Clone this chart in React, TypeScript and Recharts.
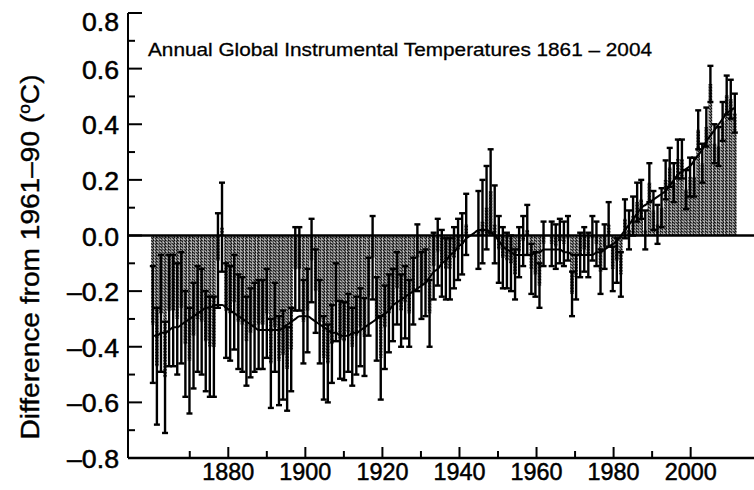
import React from 'react'
import { ComposedChart, Bar, Line, XAxis, YAxis, ErrorBar, ReferenceLine } from 'recharts'

const years = [
  1861, 1862, 1863, 1864, 1865, 1866, 1867, 1868, 1869, 1870,
  1871, 1872, 1873, 1874, 1875, 1876, 1877, 1878, 1879, 1880,
  1881, 1882, 1883, 1884, 1885, 1886, 1887, 1888, 1889, 1890,
  1891, 1892, 1893, 1894, 1895, 1896, 1897, 1898, 1899, 1900,
  1901, 1902, 1903, 1904, 1905, 1906, 1907, 1908, 1909, 1910,
  1911, 1912, 1913, 1914, 1915, 1916, 1917, 1918, 1919, 1920,
  1921, 1922, 1923, 1924, 1925, 1926, 1927, 1928, 1929, 1930,
  1931, 1932, 1933, 1934, 1935, 1936, 1937, 1938, 1939, 1940,
  1941, 1942, 1943, 1944, 1945, 1946, 1947, 1948, 1949, 1950,
  1951, 1952, 1953, 1954, 1955, 1956, 1957, 1958, 1959, 1960,
  1961, 1962, 1963, 1964, 1965, 1966, 1967, 1968, 1969, 1970,
  1971, 1972, 1973, 1974, 1975, 1976, 1977, 1978, 1979, 1980,
  1981, 1982, 1983, 1984, 1985, 1986, 1987, 1988, 1989, 1990,
  1991, 1992, 1993, 1994, 1995, 1996, 1997, 1998, 1999, 2000,
  2001, 2002, 2003, 2004,
]

// annual anomaly vs 1961-90, degC
const anomalies = [
  -0.32, -0.47, -0.28, -0.51, -0.27, -0.27, -0.3, -0.26, -0.39, -0.45,
  -0.36, -0.3, -0.31, -0.38, -0.4, -0.4, -0.09, 0.03, -0.27, -0.28,
  -0.24, -0.31, -0.32, -0.38, -0.35, -0.33, -0.32, -0.32, -0.28, -0.46,
  -0.33, -0.45, -0.43, -0.48, -0.41, -0.12, -0.12, -0.31, -0.27, -0.09,
  -0.2, -0.31, -0.44, -0.46, -0.39, -0.24, -0.375, -0.38, -0.35, -0.4,
  -0.36, -0.33, -0.365, -0.22, -0.08, -0.3, -0.44, -0.33, -0.28, -0.25,
  -0.19, -0.27, -0.24, -0.28, -0.2, -0.08, -0.18, -0.17, -0.28, -0.11,
  -0.06, -0.1, -0.12, -0.12, -0.08, -0.05, -0.03, 0.04, 0.0, 0.0,
  0.02, 0.05, 0.1, 0.16, 0.04, -0.05, -0.08, -0.09, -0.1, -0.14,
  -0.06, -0.02, 0.02, -0.12, -0.14, -0.18, -0.03, 0.0, -0.03, -0.04,
  -0.02, -0.03, -0.01, -0.21, -0.15, -0.07, -0.05, -0.07, -0.01, -0.03,
  -0.13, -0.04, 0.04, -0.12, -0.09, -0.14, 0.06, 0.02, 0.07, 0.12,
  0.13, 0.02, 0.19, 0.09, 0.04, 0.1, 0.2, 0.245, 0.19, 0.275,
  0.275, 0.165, 0.21, 0.21, 0.38, 0.26, 0.39, 0.545, 0.33, 0.32,
  0.41, 0.505, 0.49, 0.44,
]

// half-width of the error bars
const errors = [
  0.21, 0.21, 0.21, 0.2, 0.2, 0.2, 0.2, 0.2, 0.19, 0.19,
  0.19, 0.19, 0.19, 0.18, 0.18, 0.18, 0.17, 0.16, 0.17, 0.17,
  0.17, 0.17, 0.17, 0.16, 0.16, 0.16, 0.16, 0.16, 0.16, 0.16,
  0.16, 0.16, 0.16, 0.15, 0.15, 0.15, 0.15, 0.15, 0.15, 0.15,
  0.15, 0.15, 0.15, 0.14, 0.14, 0.14, 0.14, 0.14, 0.14, 0.14,
  0.14, 0.14, 0.14, 0.14, 0.15, 0.15, 0.15, 0.15, 0.14, 0.13,
  0.13, 0.13, 0.13, 0.12, 0.12, 0.12, 0.12, 0.12, 0.12, 0.12,
  0.12, 0.12, 0.11, 0.11, 0.11, 0.11, 0.11, 0.11, 0.12, 0.13,
  0.14, 0.15, 0.15, 0.15, 0.14, 0.12, 0.11, 0.1, 0.1, 0.09,
  0.09, 0.09, 0.09, 0.09, 0.08, 0.08, 0.08, 0.08, 0.08, 0.08,
  0.08, 0.08, 0.08, 0.08, 0.08, 0.08, 0.08, 0.08, 0.08, 0.08,
  0.08, 0.08, 0.08, 0.08, 0.08, 0.08, 0.07, 0.07, 0.07, 0.07,
  0.07, 0.07, 0.07, 0.07, 0.07, 0.07, 0.07, 0.07, 0.07, 0.07,
  0.07, 0.07, 0.07, 0.07, 0.07, 0.07, 0.07, 0.065, 0.07, 0.07,
  0.07, 0.07, 0.07, 0.07,
]

// smoothed curve
const smoothed = [
  -0.36, -0.36, -0.35, -0.35, -0.34, -0.33, -0.33, -0.32, -0.31, -0.3,
  -0.29, -0.28, -0.27, -0.26, -0.26, -0.25, -0.25, -0.25, -0.26, -0.27,
  -0.28, -0.29, -0.3, -0.31, -0.32, -0.33, -0.34, -0.34, -0.34, -0.34,
  -0.34, -0.34, -0.33, -0.32, -0.31, -0.3, -0.29, -0.29, -0.29, -0.3,
  -0.31, -0.32, -0.33, -0.34, -0.35, -0.35, -0.36, -0.36, -0.36, -0.35,
  -0.35, -0.34, -0.33, -0.32, -0.31, -0.3, -0.29, -0.28, -0.27, -0.25,
  -0.24, -0.23, -0.22, -0.21, -0.2, -0.19, -0.18, -0.17, -0.15, -0.13,
  -0.12, -0.1, -0.09, -0.07, -0.06, -0.04, -0.03, -0.01, 0.0, 0.01,
  0.02, 0.02, 0.02, 0.01, 0.0, -0.02, -0.04, -0.05, -0.06, -0.07,
  -0.07, -0.07, -0.07, -0.07, -0.06, -0.06, -0.05, -0.05, -0.05, -0.05,
  -0.05, -0.06, -0.06, -0.07, -0.07, -0.07, -0.07, -0.07, -0.07, -0.06,
  -0.06, -0.05, -0.04, -0.03, -0.02, 0.0, 0.02, 0.04, 0.06, 0.08,
  0.1, 0.11, 0.12, 0.13, 0.14, 0.15, 0.16, 0.18, 0.2, 0.22,
  0.23, 0.24, 0.25, 0.27, 0.29, 0.31, 0.34, 0.36, 0.38, 0.4,
  0.42, 0.44, 0.45, 0.46,
]

const yearTicks = [1870, 1880, 1890, 1900, 1910, 1920, 1930, 1940, 1950, 1960, 1970, 1980, 1990, 2000]
const yearLabels = [1880, 1900, 1920, 1940, 1960, 1980, 2000]
const valueTicks = [-0.8, -0.7, -0.6, -0.5, -0.4, -0.3, -0.2, -0.1, 0, 0.1, 0.2, 0.3, 0.4, 0.5, 0.6, 0.7, 0.8]
const valueLabels = ['\u20130.8', '\u20130.6', '\u20130.4', '\u20130.2', '0.0', '0.2', '0.4', '0.6', '0.8']

const data = years.map((year, i) => ({
  year,
  anomaly: anomalies[i],
  err: errors[i],
  smooth: smoothed[i],
}))

const FONT = '"Liberation Sans", Arial, Helvetica, sans-serif'

function YearTick(props: any) {
  const { x, y, payload } = props
  const major = yearLabels.includes(payload.value)
  return (
    <g>
      <line x1={x} x2={x} y1={y} y2={y - (major ? 11 : 7)} stroke="#000" strokeWidth={2} />
      {major && (
        <text x={x} y={y + 22} textAnchor="middle" fontSize={24} fontFamily={FONT} fill="#000"
          stroke="#000" strokeWidth={0.5} textLength={52} lengthAdjust="spacingAndGlyphs">
          {payload.value}
        </text>
      )}
    </g>
  )
}

function ValueTick(props: any) {
  const { x, y, payload } = props
  const idx = valueTicks.indexOf(payload.value)
  const major = idx % 2 === 0
  const label = major ? valueLabels[idx / 2] : null
  // the top label sits a little below its tick in the original
  const shift = payload.value === 0.8 ? 9 : 1
  return (
    <g>
      <line x1={x} x2={x + (major ? 14 : 7)} y1={y} y2={y} stroke="#000" strokeWidth={2} />
      {label && (
        <text x={x - 9} y={y + shift} dy="0.36em" textAnchor="end" fontSize={25} fontFamily={FONT} fill="#000"
          stroke="#000" strokeWidth={0.5} textLength={label.length > 3 ? 52 : 37} lengthAdjust="spacingAndGlyphs">
          {label}
        </text>
      )}
    </g>
  )
}

export default function App() {
  return (
    <div style={{ position: 'absolute', left: 0, top: 0, width: 754, height: 490, background: '#fff' }}>
      <svg width={0} height={0} style={{ position: 'absolute' }}>
        <defs>
          <pattern id="dither" width="3" height="3" patternUnits="userSpaceOnUse">
            <rect width="3" height="3" fill="#6c6c6c" />
            <rect x="0" y="0" width="1" height="1" fill="#0e0e0e" />
            <rect x="2" y="1" width="1" height="1" fill="#151515" />
            <rect x="1" y="0" width="1" height="1" fill="#333" />
            <rect x="0" y="2" width="1" height="1" fill="#3a3a3a" />
            <rect x="1" y="2" width="1" height="1" fill="#bdbdbd" />
          </pattern>
        </defs>
      </svg>
      <ComposedChart width={754} height={490} data={data} margin={{ top: 13, right: 0, bottom: 0, left: 0 }}>
        <XAxis xAxisId="data" dataKey="year" type="number" domain={[1854.85, 2008.66]} allowDataOverflow hide height={0} />
        <XAxis
          xAxisId="yr"
          dataKey="year"
          type="number"
          domain={[1853.97, 2016.44]}
          allowDataOverflow
          ticks={yearTicks}
          interval={0}
          height={32}
          tickSize={0}
          tickMargin={0}
          tickLine={false}
          axisLine={{ stroke: '#000', strokeWidth: 2.5 }}
          tick={<YearTick />}
        />
        <YAxis
          type="number"
          domain={[-0.8, 0.8]}
          ticks={valueTicks}
          interval={0}
          width={128}
          tickSize={0}
          tickMargin={0}
          tickLine={false}
          axisLine={{ stroke: '#000', strokeWidth: 2 }}
          tick={<ValueTick />}
        />
        <Bar xAxisId="data" dataKey="anomaly" fill="url(#dither)" barSize={4.1} isAnimationActive={false}>
          <ErrorBar dataKey="err" direction="y" width={3} strokeWidth={2.4} stroke="#000" />
        </Bar>
        <Line xAxisId="data" dataKey="smooth" type="monotone" stroke="#000" strokeWidth={2} dot={false}
          isAnimationActive={false} />
        <ReferenceLine xAxisId="data" y={0} stroke="#000" strokeWidth={2.5} />
      </ComposedChart>
      <svg width={754} height={490} style={{ position: 'absolute', left: 0, top: 0, pointerEvents: 'none' }}>
        <text x={148} y={56} fontSize={19} fontFamily={FONT} fill="#000" stroke="#000" strokeWidth={0.3}
          textLength={504} lengthAdjust="spacingAndGlyphs">
          Annual Global Instrumental Temperatures 1861 – 2004
        </text>
        <text transform="translate(39 257) rotate(-90)" textAnchor="middle" fontSize={26} fontFamily={FONT} fill="#000"
          stroke="#000" strokeWidth={0.4} textLength={365} lengthAdjust="spacingAndGlyphs">
          Difference from 1961–90 (<tspan dy={-9} fontSize={16}>o</tspan><tspan dy={9}>C)</tspan>
        </text>
      </svg>
    </div>
  )
}
